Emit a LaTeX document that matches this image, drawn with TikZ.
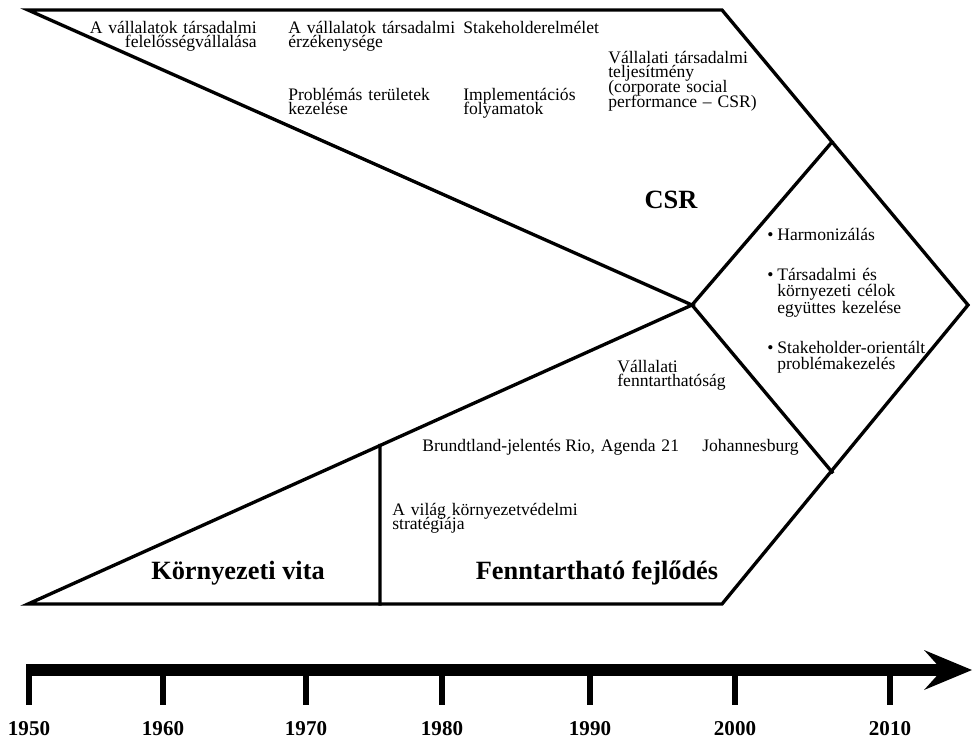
\documentclass[tikz,border=0pt]{standalone}
\usepackage{fontspec}
\setmainfont{Liberation Serif}
\usetikzlibrary{calc}
\begin{document}
\begin{tikzpicture}[x=0.02cm,y=-0.02cm,
  frame/.style={line width=1.9pt, line join=miter, line cap=rect},
  lbl/.style={inner sep=0pt, font=\fontsize{10}{8.5}\selectfont, text width=4cm, align=left, anchor=base west,
    execute at begin node={\lineskiplimit=-20pt\relax\lineskip=0pt\relax}},
  lblr/.style={lbl, align=right, anchor=base east},
  bul/.style={lbl, font=\fontsize{10}{9.6}\selectfont},
  big/.style={inner sep=0pt, anchor=base, font=\fontsize{15}{18}\selectfont\bfseries},
  year/.style={inner sep=0pt, anchor=base, font=\fontsize{12}{14}\selectfont\bfseries},
  tickmark/.style={line width=3.4pt}
]
\useasboundingbox (0,0) rectangle (973,741);

% outline of the two converging bands and the joint arrow
\coordinate (tl) at (28,10);
\coordinate (tr) at (722,10);
\coordinate (rt) at (968,305);
\coordinate (br) at (722,604);
\coordinate (bl) at (28,604);
\coordinate (tip) at (692,305);
\coordinate (dtop) at (832,142);
\coordinate (dbot) at (832,472);
\coordinate (divb) at (380,604);
\coordinate (divt) at ($(bl)!0.5301!(tip)$);

\draw[frame] (tl) -- (tr) -- (rt) -- (br) -- (bl) -- (tip) -- cycle;
\draw[frame] (dtop) -- (tip) -- (dbot);
\draw[frame] (divt) -- (divb);

% CSR band
\node[lblr] (t1) at (257,33) {A vállalatok társadalmi\\felelősségvállalása};
\node[lbl] (t2) at (288,33) {A vállalatok társadalmi\\érzékenysége};
\node[lbl] (t3) at (463,33) {Stakeholderelmélet};
\node[lbl] (t4) at (288,100) {Problémás területek\\kezelése};
\node[lbl] (t5) at (463,100) {Implementációs\\folyamatok};
\node[lbl] (t6) at (608,63) {Vállalati társadalmi\\teljesítmény\\(corporate social\\performance -- CSR)};
\node[big] (csr) at (671,208) {CSR};

% joint field
\node[bul, text width=0.3cm] (b1) at (767,240) {\textbullet};
\node[bul] (h1) at (777,240) {Harmonizálás};
\node[bul, text width=0.3cm] (b2) at (767,280) {\textbullet};
\node[bul] (h2) at (777,280) {Társadalmi és\\környezeti célok\\együttes kezelése};
\node[bul, text width=0.3cm] (b3) at (767,353) {\textbullet};
\node[bul] (h3) at (777,353) {Stakeholder-orientált\\problémakezelés};

% sustainability band
\node[lbl] (s1) at (617,372) {Vállalati\\fenntarthatóság};
\node[lbl] (s2) at (422,451) {Brundtland-jelentés};
\node[lbl] (s3) at (565,451) {Rio, Agenda 21};
\node[lbl] (s4) at (702,451) {Johannesburg};
\node[lbl] (s5) at (392,515) {A világ környezetvédelmi\\stratégiája};
\node[big] (kv) at (238,579) {Környezeti vita};
\node[big] (ff) at (597,579) {Fenntartható fejlődés};

% time axis
\fill (26,664) rectangle (944,676);
\fill (924,650) -- (972,670) -- (924,690) -- (942,670) -- cycle;
\foreach \xx/\yr in {29/1950,163/1960,306/1970,442/1980,590/1990,735/2000,890/2010}{
  \draw[tickmark] (\xx,670) -- (\xx,705);
  \node[year] (y\yr) at (\xx,735) {\yr};
}
\end{tikzpicture}
\end{document}
